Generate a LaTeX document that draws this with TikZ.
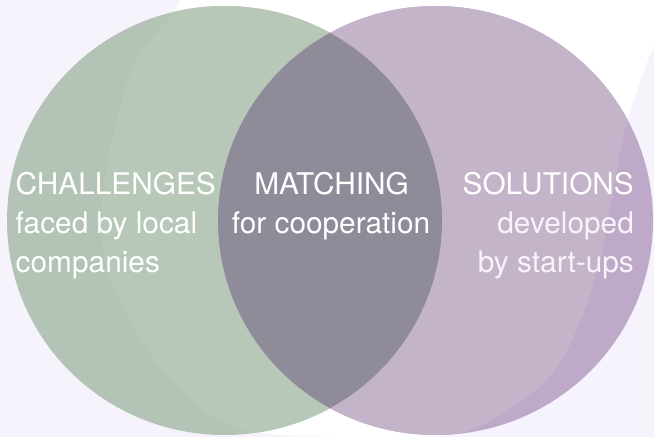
\documentclass[tikz,border=0pt]{standalone}
\usepackage{fontspec}
\setmainfont{TeX Gyre Heros}
\definecolor{bgl}{HTML}{F6F3FD}
\definecolor{greenD}{HTML}{B3C3B5}
\definecolor{greenL}{HTML}{B7C8B9}
\definecolor{purpD}{HTML}{BEA9C8}
\definecolor{purpL}{HTML}{C3B4CA}
\definecolor{lensc}{HTML}{8F8B99}
\definecolor{txtr}{HTML}{F7F3F9}
\begin{document}
\begin{tikzpicture}[x=1pt,y=-1pt,
  txt/.style={inner sep=0pt,text=white,font=\fontsize{29.8}{40}\selectfont},
  gell/.style={x radius=217.5pt,y radius=214.5pt}]
\useasboundingbox (0,0) rectangle (654,437);
\begin{scope}
\clip (0,0) rectangle (654,437);
\fill[bgl] (0,0) rectangle (654,437);
\def\blobpath{plot[smooth cycle] coordinates {(102,215) (110,280) (160,367) (233,427) (345,437) (460,433) (530,395) (560,363) (585,310) (600,260) (612,200) (625,130) (654,45) (700,-40) (450,-75) (220,-40) (173,13) (133,67) (110,150)}}
\fill[white] \blobpath;
\fill[greenD] (224.5,220.5) ellipse [gell];
\fill[purpD] (435.5,220.5) ellipse [gell];
\begin{scope}
\clip \blobpath;
\fill[greenL] (224.5,220.5) ellipse [gell];
\fill[purpL] (435.5,220.5) ellipse [gell];
\end{scope}
\begin{scope}
\clip (224.5,220.5) ellipse [gell];
\fill[lensc] (435.5,220.5) ellipse [gell];
\end{scope}
\end{scope}
\node[txt,anchor=base west] (ch1) at (15.5,194) {CHALLENGES};
\node[txt,anchor=base west] (ch2) at (15.5,233) {faced by local};
\node[txt,anchor=base west] (ch3) at (15.5,272) {companies};
\node[txt,anchor=base] (ma1) at (331.5,194) {MATCHING};
\node[txt,anchor=base] (ma2) at (331,233) {for cooperation};
\node[txt,anchor=base east] (so1) at (634,194) {SOLUTIONS};
\node[txt,anchor=base east,text=txtr] (so2) at (634,233) {developed};
\node[txt,anchor=base east,text=txtr] (so3) at (634,272) {by start-ups};
\end{tikzpicture}
\end{document}
